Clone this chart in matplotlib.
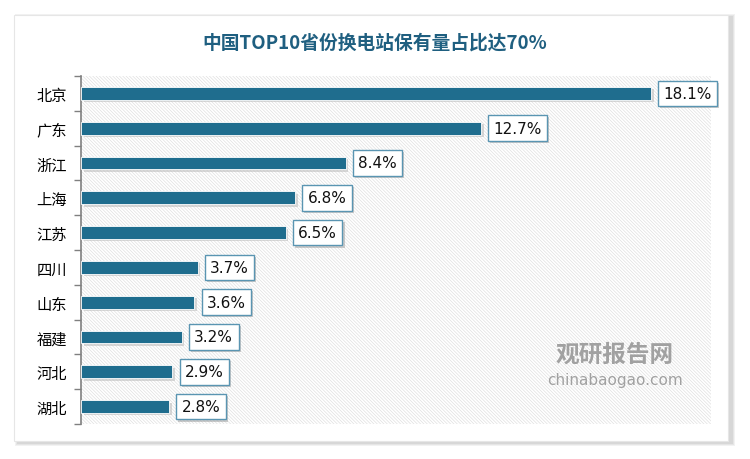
import matplotlib
matplotlib.use('Agg')
import matplotlib.pyplot as plt
import matplotlib.patheffects as pe
from matplotlib.patches import Rectangle
import numpy as np

plt.rcParams['font.family'] = ['Noto Sans CJK SC', 'DejaVu Sans']
plt.rcParams['hatch.linewidth'] = 0.5

# --- data ---
provinces = ["北京", "广东", "浙江", "上海", "江苏", "四川", "山东", "福建", "河北", "湖北"]
shares = [18.1, 12.7, 8.4, 6.8, 6.5, 3.7, 3.6, 3.2, 2.9, 2.8]
title = "中国TOP10省份换电站保有量占比达70%"

BAR = "#1f6d8e"
TITLE_C = "#1f5f80"
W, H = 750, 460

fig = plt.figure(figsize=(7.5, 4.6), dpi=100)
fig.patch.set_facecolor("white")

# card with soft shadow
for i, a in enumerate([0.05, 0.05, 0.06]):
    off = 3 - i
    fig.patches.append(Rectangle(((14 - off + 4) / W, (460 - 442 - off - 2) / H),
                                 (714 + 2 * off) / W, (426 + 2 * off) / H,
                                 transform=fig.transFigure, facecolor="black",
                                 alpha=a, edgecolor="none", zorder=0))
fig.patches.append(Rectangle((14 / W, (460 - 442) / H), 714 / W, 426 / H,
                             transform=fig.transFigure, facecolor="white",
                             edgecolor="#e6e6e6", lw=0.8, zorder=1))

ax = fig.add_axes([81 / W, (460 - 425) / H, (711 - 81) / W, (425 - 77) / H])
ax.set_zorder(2)
ax.patch.set_alpha(0)
ax.add_patch(Rectangle((0, 0), 1, 1, transform=ax.transAxes, facecolor="white",
                       edgecolor="#e0e0e0", hatch="\\" * 10, lw=0, zorder=0))

y = np.arange(len(provinces))
ax.set_xlim(0, 20)
ax.set_ylim(len(provinces) - 0.5, -0.5)

# bar shadows then bars
ax.barh(y + 0.07, shares, height=0.37, left=0.08, color="#bfbfbf", alpha=0.6, zorder=2)
ax.barh(y, shares, height=0.37, color=BAR, edgecolor="white", lw=0.6, zorder=3)

for yi, v in zip(y, shares):
    t = ax.annotate(f"{v}%", (v, yi), xytext=(9, 0), textcoords="offset points",
                    ha="left", va="center", fontsize=11, family="DejaVu Sans",
                    color="#111111", zorder=5,
                    bbox=dict(boxstyle="square,pad=0.35", fc="white", ec="#5a95b2", lw=1.0))
    t.get_bbox_patch().set_path_effects([
        pe.SimplePatchShadow(offset=(1.5, -1.5), shadow_rgbFace="#9a9a9a", alpha=0.5),
        pe.Normal()])

ax.set_yticks(y)
ax.set_yticklabels(provinces, fontsize=11)
ax.set_yticks(np.arange(-0.5, len(provinces), 1), minor=True)
ax.tick_params(axis="y", which="major", length=0, pad=10)
ax.tick_params(axis="y", which="minor", length=5, color="#808080", width=1)
ax.set_xticks([])
for s in ["top", "right", "bottom"]:
    ax.spines[s].set_visible(False)
ax.spines["left"].set_color("#808080")
ax.spines["left"].set_linewidth(1.2)

fig.text(375 / W, 1 - 43 / H, title, ha="center", va="center", fontsize=13.5,
         fontweight="bold", color=TITLE_C)

# watermark
fig.text(615 / W, 1 - 355 / H, "观研报告网", ha="center", va="center", fontsize=17,
         fontweight="bold", color="#8c8c8c", alpha=0.8, zorder=6)
fig.text(615 / W, 1 - 381 / H, "chinabaogao.com", ha="center", va="center",
         fontsize=11, family="DejaVu Sans", color="#8c8c8c", alpha=0.8, zorder=6)

fig.savefig("out.png", dpi=100)
